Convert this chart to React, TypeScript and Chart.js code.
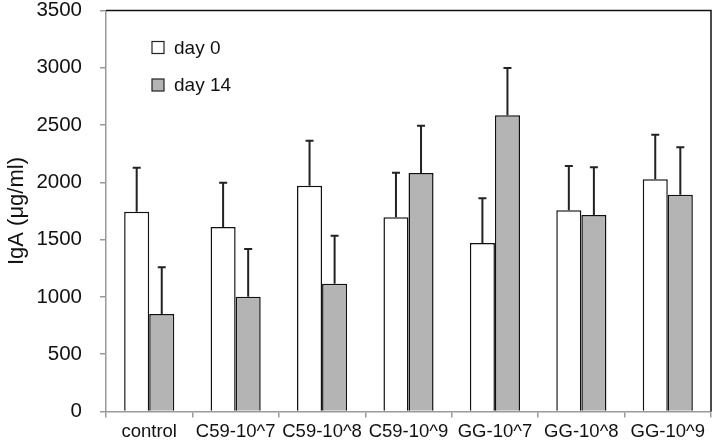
import React, { useEffect, useRef } from "react";
import { Chart, registerables } from "chart.js";

Chart.register(...registerables);

const categories = ["control", "C59-10^7", "C59-10^8", "C59-10^9", "GG-10^7", "GG-10^8", "GG-10^9"];
const day0Values = [1743, 1610, 1971, 1695, 1471, 1756, 2027];
const day0Errors = [384, 387, 393, 389, 390, 387, 389];
const day14Values = [851, 1002, 1116, 2082, 2585, 1715, 1892];
const day14Errors = [407, 416, 419, 413, 413, 416, 414];
const yTicks = [0, 500, 1000, 1500, 2000, 2500, 3000, 3500];

const FONT = "'Liberation Sans', Arial, Helvetica, sans-serif";

const errorBarPlugin = {
  id: "errorBars",
  afterDatasetsDraw(chart: any) {
    const ctx = chart.ctx;
    const yScale = chart.scales.y;
    chart.data.datasets.forEach((ds: any, i: number) => {
      const meta = chart.getDatasetMeta(i);
      const errs: number[] = ds.errors || [];
      meta.data.forEach((bar: any, j: number) => {
        const v = ds.data[j];
        const e = errs[j];
        if (e == null) return;
        const yTop = yScale.getPixelForValue(v + e);
        const yBase = yScale.getPixelForValue(v);
        ctx.save();
        ctx.strokeStyle = "#222";
        ctx.lineWidth = 2;
        ctx.beginPath();
        ctx.moveTo(bar.x, yBase);
        ctx.lineTo(bar.x, yTop);
        ctx.moveTo(bar.x - 4, yTop);
        ctx.lineTo(bar.x + 4, yTop);
        ctx.stroke();
        ctx.restore();
      });
    });
  },
};

const frameLegendPlugin = {
  id: "frameLegend",
  afterDraw(chart: any) {
    const ctx = chart.ctx;
    const a = chart.chartArea;
    ctx.save();
    ctx.strokeStyle = "#111";
    ctx.lineWidth = 1.5;
    ctx.beginPath();
    ctx.moveTo(a.left, a.top);
    ctx.lineTo(a.right, a.top);
    ctx.lineTo(a.right, a.bottom);
    ctx.stroke();
    // legend
    ctx.font = `19px ${FONT}`;
    ctx.textBaseline = "middle";
    ctx.textAlign = "left";
    chart.data.datasets.forEach((ds: any, i: number) => {
      const cy = a.top + 37 + i * 37.5;
      const sx = a.left + 46;
      ctx.fillStyle = ds.backgroundColor;
      ctx.fillRect(sx, cy - 6, 12, 12);
      ctx.strokeStyle = "#222";
      ctx.lineWidth = 1.2;
      ctx.strokeRect(sx, cy - 6, 12, 12);
      ctx.fillStyle = "#111";
      ctx.fillText(ds.label, sx + 22, cy + 1);
    });
    ctx.restore();
  },
};

export default function App() {
  const ref = useRef<HTMLCanvasElement | null>(null);
  useEffect(() => {
    document.body.style.margin = "0";
    if (!ref.current) return;
    const chart = new Chart(ref.current, {
      type: "bar",
      data: {
        labels: categories,
        datasets: [
          {
            label: "day 0",
            data: day0Values,
            errors: day0Errors,
            backgroundColor: "#ffffff",
            borderColor: "#111",
            borderWidth: 1.5,
            borderSkipped: "bottom",
            categoryPercentage: 0.58,
            barPercentage: 1.0,
          } as any,
          {
            label: "day 14",
            data: day14Values,
            errors: day14Errors,
            backgroundColor: "#b4b4b4",
            borderColor: "#111",
            borderWidth: 1.5,
            borderSkipped: "bottom",
            categoryPercentage: 0.58,
            barPercentage: 1.0,
          } as any,
        ],
      },
      options: {
        responsive: false,
        animation: false,
        layout: { padding: { left: 0, top: 10.5, right: 1, bottom: 0 } },
        plugins: {
          legend: { display: false },
          tooltip: { enabled: false },
        },
        scales: {
          x: {
            grid: {
              offset: true,
              drawOnChartArea: false,
              drawTicks: true,
              tickLength: 6,
              color: "#9a9a9a",
              lineWidth: 1.5,
            },
            border: { color: "#9a9a9a", width: 1.5 },
            ticks: {
              color: "#111",
              font: { family: FONT, size: 18.5 },
              padding: 3,
              maxRotation: 0,
              autoSkip: false,
            },
            afterFit(scale: any) {
              scale.height = 29.5;
              scale.paddingLeft = 0;
              scale.paddingRight = 0;
            },
          },
          y: {
            min: 0,
            max: 3500,
            afterBuildTicks(scale: any) {
              scale.ticks = yTicks.map((v) => ({ value: v }));
            },
            grid: {
              drawOnChartArea: false,
              drawTicks: true,
              tickLength: 6,
              color: "#9a9a9a",
              lineWidth: 1.5,
            },
            border: { color: "#9a9a9a", width: 1.5 },
            ticks: {
              color: "#111",
              font: { family: FONT, size: 20.5 },
              padding: 18,
              callback: (v: any) => String(v),
            },
            title: {
              display: true,
              text: "IgA (μg/ml)",
              color: "#111",
              font: { family: FONT, size: 22 },
              padding: { top: 4, bottom: 0 },
            },
            afterFit(scale: any) {
              scale.width = 106;
              scale.paddingTop = 0;
              scale.paddingBottom = 0;
            },
          },
        },
      },
      plugins: [errorBarPlugin, frameLegendPlugin],
    });
    return () => chart.destroy();
  }, []);
  return (
    <div style={{ width: 712, height: 441, position: "relative", background: "#fff" }}>
      <canvas ref={ref} width={712} height={441} />
    </div>
  );
}
